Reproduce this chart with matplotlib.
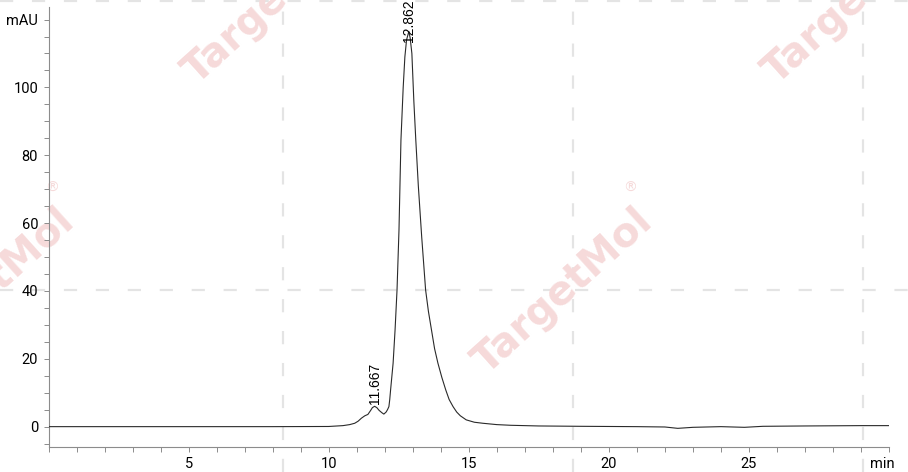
import matplotlib
matplotlib.use("Agg")
import matplotlib.pyplot as plt
from matplotlib.lines import Line2D
from matplotlib.ticker import MultipleLocator

# chromatogram trace (min, mAU)
time_min = [0, 2, 4, 6, 8, 10, 10.51, 10.75, 10.93, 11.05, 11.17, 11.29, 11.4, 11.5,
            11.56, 11.64, 11.72, 11.8, 11.9, 11.97, 12.05, 12.1, 12.15, 12.18, 12.21,
            12.3, 12.37, 12.44, 12.51, 12.58, 12.66, 12.72, 12.78, 12.862, 12.91, 12.97,
            13.04, 13.11, 13.2, 13.32, 13.46, 13.56, 13.67, 13.78, 13.9, 14.04, 14.18,
            14.3, 14.44, 14.57, 14.7, 14.91, 15.2, 15.5, 16.0, 16.5, 17.5, 19, 21, 22.0,
            22.46, 23.0, 24.0, 24.84, 25.5, 27, 29, 30]
absorb = [0, 0, 0, 0, 0, 0.05, 0.3, 0.6, 1.0, 1.6, 2.5, 3.2, 3.6, 4.8,
          5.6, 6.0, 5.6, 4.8, 4.1, 3.7, 4.3, 5.0, 5.9, 8.0, 10.8,
          18.7, 28.5, 40.3, 58, 84.5, 100, 109, 114, 116.5, 114.5, 110,
          96, 84.5, 71, 56, 40.3, 34, 28.5, 23, 18.7, 14.5, 10.8,
          8.0, 5.9, 4.3, 3.2, 2.0, 1.3, 1.0, 0.6, 0.4, 0.2, 0.1, 0.0, -0.1,
          -0.5, -0.2, 0.0, -0.2, 0.1, 0.2, 0.3, 0.3]

peak_rt = [11.667, 12.862]
peak_lbl = ["11.667", "12.862"]
peak_lbl_y = [6.7, 113.3]

xticks = [5, 10, 15, 20, 25]
yticks = [0, 20, 40, 60, 80, 100, 120]
ylabels = ["0", "20", "40", "60", "80", "100", "mAU"]

W, H = 908, 472
fig = plt.figure(figsize=(W / 100, H / 100), dpi=100)
plt.rcParams['lines.scale_dashes'] = False

ax = fig.add_axes([48.5 / W, 1 - 447 / H, (889 - 48.5) / W, (447 - 7) / H])
ax.patch.set_visible(False)

# watermark grid + logo text (behind the axes)
wm = '#f6dada'
grid_c = '#e4e4e4'
for gx in [282.7, 572.7, 862.7]:
    fig.add_artist(Line2D([gx / W, gx / W], [0, 1], transform=fig.transFigure,
                          color=grid_c, lw=1.6, dashes=(9.5, 13.5), zorder=-2))
for gy in [0.5, 290]:
    fig.add_artist(Line2D([0, 1], [1 - gy / H, 1 - gy / H], transform=fig.transFigure,
                          color=grid_c, lw=1.6, dashes=(9.5, 13.5), zorder=-2))
for cx, cy in [(563, 292), (-15, 292), (273, 2), (853, 2)]:
    fig.text(cx / W, 1 - cy / H, "TargetMol", rotation=42, color=wm, fontsize=29,
             fontweight='bold', ha='center', va='center', rotation_mode='anchor', zorder=-1)
    fig.text((cx + 67) / W, 1 - (cy - 104) / H, "®", color=wm, fontsize=10,
             ha='center', va='center', zorder=-1)

ax.plot(time_min, absorb, color='#2a2a2a', lw=0.8, zorder=3)

for rt, lbl, ly in zip(peak_rt, peak_lbl, peak_lbl_y):
    ax.text(rt, ly, lbl, rotation=90, ha='center', va='bottom', fontsize=10,
            family=['Liberation Sans', 'DejaVu Sans'], clip_on=False, zorder=4)

ax.set_xlim(0, 30)
ax.set_ylim(-6, 123.7)
ax.set_xticks(xticks)
ax.xaxis.set_minor_locator(MultipleLocator(1))
ax.set_yticks(yticks)
ax.set_yticklabels(ylabels)
ax.yaxis.set_minor_locator(MultipleLocator(5))

for s in ['top', 'right']:
    ax.spines[s].set_visible(False)
for s in ['left', 'bottom']:
    ax.spines[s].set_color('#8c8c8c')
    ax.spines[s].set_linewidth(0.8)

ax.tick_params(which='both', direction='out', length=3.5, width=0.7, color='#8c8c8c')
ax.tick_params(axis='both', labelsize=10.5, pad=4, labelcolor='black')
for lab in ax.get_xticklabels() + ax.get_yticklabels():
    lab.set_family(['Liberation Sans Narrow', 'Roboto', 'DejaVu Sans'])

ax.annotate("min", xy=(29.75, 0), xycoords=('data', 'axes fraction'), xytext=(0, -7.2),
            textcoords='offset points', ha='center', va='top', fontsize=10.5,
            family=['Liberation Sans Narrow', 'Roboto', 'DejaVu Sans'])

fig.savefig("out.png", dpi=100)
